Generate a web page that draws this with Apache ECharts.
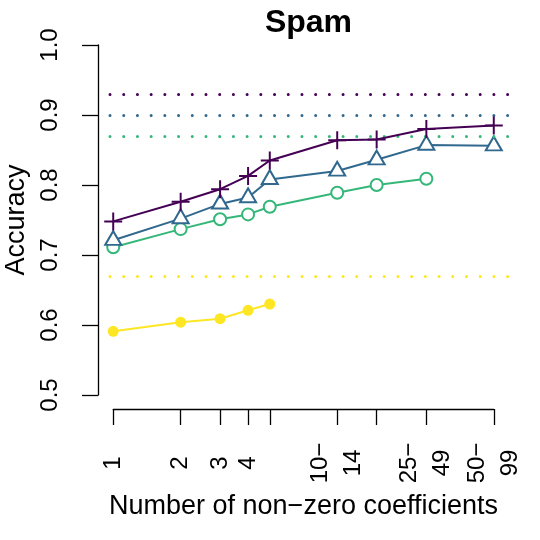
<!DOCTYPE html>
<html>
<head>
<meta charset="utf-8">
<script src="https://cdn.jsdelivr.net/npm/echarts@6/dist/echarts.min.js"></script>
<style>html,body{margin:0;padding:0;background:#fff}#chart{width:540px;height:540px}</style>
</head>
<body>
<div id="chart"></div>
<script>
// ---- data ----
const counts = [1, 2, 3, 4, 5, 10, 15, 25, 50];
const tickLabels = ["1", "2", "3", "4", "", "10\u2212\n14", "", "25\u2212\n49", "50\u2212\n99"];
const yTicks = [0.5, 0.6, 0.7, 0.8, 0.9, 1.0];
const purpleVals = [0.748, 0.776, 0.794, 0.813, 0.835, 0.864, 0.865, 0.880, 0.885];
const blueVals   = [0.721, 0.752, 0.773, 0.782, 0.808, 0.820, 0.836, 0.857, 0.856];
const greenVals  = [0.711, 0.737, 0.751, 0.758, 0.769, 0.789, 0.800, 0.809];
const yellowVals = [0.591, 0.604, 0.609, 0.621, 0.630];
const refLines = { purple: 0.926, blue: 0.902, green: 0.869, yellow: 0.666 };
const title = "Spam";
const xTitle = "Number of non\u2212zero coefficients";
const yTitle = "Accuracy";

// ---- layout ----
const colors = { purple: '#440154', blue: '#31688E', green: '#35B779', yellow: '#FDE725' };
const FONT = '"Liberation Sans", Arial, Helvetica, sans-serif';
const G = { left: 98, right: 31, top: 31, bottom: 131 };
const W = 540, H = 540;
const lx = counts.map(c => Math.log2(c));
const xLo = lx[0], xHi = lx[lx.length - 1];
const xPadU = 0.04 * (xHi - xLo);
const yLo = yTicks[0], yHi = yTicks[yTicks.length - 1];
const yPadU = 0.04 * (yHi - yLo);
const gw = W - G.left - G.right, gh = H - G.top - G.bottom;
const xPadPx = xPadU / (xHi - xLo + 2 * xPadU) * gw;
const yPadPx = yPadU / (yHi - yLo + 2 * yPadU) * gh;

function pts(vals) { return vals.map((v, i) => [lx[i], v]); }
const dotStyle = c => ({ color: c, width: 3, type: [0.01, 13.7], cap: 'round', dashOffset: 1.7 });
function refMark(c, v) {
  return { silent: true, symbol: 'none', label: { show: false },
    lineStyle: dotStyle(c), emphasis: { disabled: true }, data: [{ yAxis: v }] };
}
const plusPath = 'path://M-1,-0.11H1V0.11H-1ZM-0.11,-1H0.11V1H-0.11Z';
const gridBase = { outerBoundsMode: 'none', containLabel: false };

const chart = echarts.init(document.getElementById('chart'), null, { renderer: 'canvas' });
chart.setOption({
  animation: false,
  backgroundColor: '#fff',
  title: { text: title, left: G.left + gw / 2, top: 2, textAlign: 'center',
    textStyle: { fontFamily: FONT, fontSize: 32, fontWeight: 'bold', color: '#000' } },
  grid: [
    Object.assign({ left: G.left, right: G.right, top: G.top, bottom: G.bottom }, gridBase),
    Object.assign({ left: G.left, right: G.right, top: G.top + yPadPx, bottom: G.bottom + yPadPx }, gridBase),
    Object.assign({ left: G.left + xPadPx, right: G.right + xPadPx, top: G.top, bottom: G.bottom }, gridBase)
  ],
  xAxis: [
    { gridIndex: 0, type: 'value', min: xLo - xPadU, max: xHi + xPadU, show: false },
    { gridIndex: 1, type: 'value', show: false },
    { gridIndex: 2, type: 'value', min: xLo, max: xHi,
      axisLine: { show: true, lineStyle: { color: '#000', width: 1.3 } },
      axisTick: { show: true, length: 16, customValues: lx, lineStyle: { color: '#000', width: 1.3 } },
      splitLine: { show: false },
      axisLabel: { show: true, customValues: lx, rotate: 90, align: 'center', verticalAlign: 'middle',
        margin: 54, fontFamily: FONT, fontSize: 24, color: '#000', lineHeight: 33,
        formatter: v => { let b = 0; lx.forEach((q, i) => { if (Math.abs(q - v) < Math.abs(lx[b] - v)) b = i; }); return tickLabels[b]; } },
      name: xTitle, nameLocation: 'middle', nameGap: 98,
      nameTextStyle: { fontFamily: FONT, fontSize: 27, color: '#000', verticalAlign: 'middle' } }
  ],
  yAxis: [
    { gridIndex: 0, type: 'value', min: yLo - yPadU, max: yHi + yPadU, show: false },
    { gridIndex: 1, type: 'value', min: yLo, max: yHi, interval: 0.1,
      axisLine: { show: true, lineStyle: { color: '#000', width: 1.3 } },
      axisTick: { show: true, length: 16, lineStyle: { color: '#000', width: 1.3 } },
      splitLine: { show: false },
      axisLabel: { rotate: 90, align: 'center', verticalAlign: 'middle', margin: 48,
        fontFamily: FONT, fontSize: 24, color: '#000', formatter: v => v.toFixed(1) },
      name: yTitle, nameLocation: 'middle', nameGap: 79, nameRotate: 90,
      nameTextStyle: { fontFamily: FONT, fontSize: 27, color: '#000', verticalAlign: 'middle' } },
    { gridIndex: 2, type: 'value', show: false }
  ],
  series: [
    { type: 'line', xAxisIndex: 0, yAxisIndex: 0, data: pts(yellowVals), z: 2,
      symbol: 'circle', symbolSize: 11, itemStyle: { color: colors.yellow },
      lineStyle: { color: colors.yellow, width: 2 }, markLine: refMark(colors.yellow, refLines.yellow) },
    { type: 'line', xAxisIndex: 0, yAxisIndex: 0, data: pts(greenVals), z: 3,
      symbol: 'circle', symbolSize: 12, itemStyle: { color: '#fff', borderColor: colors.green, borderWidth: 2 },
      lineStyle: { color: colors.green, width: 2 }, markLine: refMark(colors.green, refLines.green) },
    { type: 'line', xAxisIndex: 0, yAxisIndex: 0, data: pts(blueVals), z: 4,
      symbol: 'triangle', symbolSize: [16, 13.8], symbolOffset: [0, -2.3],
      itemStyle: { color: '#fff', borderColor: colors.blue, borderWidth: 2 },
      lineStyle: { color: colors.blue, width: 2 }, markLine: refMark(colors.blue, refLines.blue) },
    { type: 'line', xAxisIndex: 0, yAxisIndex: 0, data: pts(purpleVals), z: 5,
      symbol: plusPath, symbolSize: 18, itemStyle: { color: colors.purple },
      lineStyle: { color: colors.purple, width: 2 }, markLine: refMark(colors.purple, refLines.purple) }
  ]
});
</script>
</body>
</html>
